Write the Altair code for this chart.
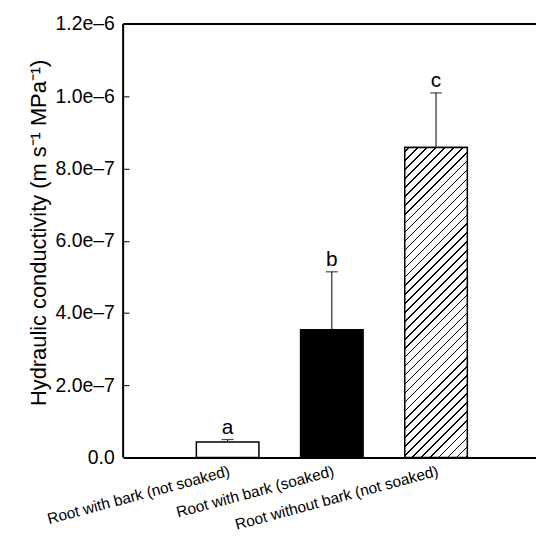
import math
import altair as alt
import pandas as pd

# ---- data ----
categories = ["Root with bark (not soaked)", "Root with bark (soaked)", "Root without bark (not soaked)"]
means = [4.3e-8, 3.54e-7, 8.58e-7]
errors = [0.7e-8, 1.60e-7, 1.51e-7]
letters = ["a", "b", "c"]
bar_fills = ["white", "black", "white"]
y_ticks = [0, 2e-7, 4e-7, 6e-7, 8e-7, 1.0e-6, 1.2e-6]
y_max = 1.2e-6
y_title = "Hydraulic conductivity (m s\u207b\u00b9 MPa\u207b\u00b9)"

df = pd.DataFrame({
    "cat": categories,
    "mean": means,
    "top": [m + e for m, e in zip(means, errors)],
    "letter": letters,
    "fill": bar_fills,
})

# ---- layout ----
W, H = 416, 437
P_IN, P_OUT, ALIGN = 0.4, 0.681, 0.516
FONT = "Liberation Sans"

# ---- hatch pattern as a hard-stop linear gradient for the third bar ----
step = W / (len(categories) - P_IN + 2 * P_OUT)
bw = step * (1 - P_IN)
hb = means[2] / y_max * H
c = (bw + hb) / (bw ** 2 + hb ** 2)
gx2, gy2 = c * bw, c * hb
spacing = 9.0  # horizontal distance between hatch lines (px)
period = spacing / (bw + hb)
half = (1.1 / ((bw + hb) / math.sqrt(2))) / 2
stops = [alt.GradientStop(offset=0, color="white")]
k = 0
while True:
    ctr = period * (k + 0.5)
    a, b = ctr - half, ctr + half
    if b >= 1:
        break
    stops += [
        alt.GradientStop(offset=a, color="white"),
        alt.GradientStop(offset=a, color="black"),
        alt.GradientStop(offset=b, color="black"),
        alt.GradientStop(offset=b, color="white"),
    ]
    k += 1
stops.append(alt.GradientStop(offset=1, color="white"))
hatch = alt.LinearGradient(gradient="linear", stops=stops, x1=0, y1=0, x2=gx2, y2=gy2)

x_enc = alt.X(
    "cat:N",
    sort=categories,
    scale=alt.Scale(paddingInner=P_IN, paddingOuter=P_OUT, align=ALIGN),
    axis=alt.Axis(
        title=None, ticks=False, domainWidth=2, domainColor="black",
        labelAngle=345, labelAlign="right", labelBaseline="top",
        labelPadding=6, labelFontSize=15.5, labelLimit=0, labelColor="black",
        labelFont=FONT,
    ),
)
y_scale = alt.Scale(domain=[0, y_max], nice=False, zero=True)
y_axis = alt.Axis(
    values=y_ticks,
    labelExpr="datum.value == 0 ? '0.0' : replace(format(datum.value, '.1e'), '-', '\u2013')",
    domain=False, grid=False, tickSize=6, tickColor="black", tickWidth=1,
    offset=-6, labelPadding=9, labelFontSize=19.5, labelColor="black", labelFont=FONT,
    title=y_title, titleFontSize=22, titleFontWeight="normal", titleColor="black",
    titleFont=FONT, titleAngle=270, titleAlign="center", titleBaseline="alphabetic",
    titleX=-84, titleY=210,
)

base = alt.Chart(df)

bars = base.mark_bar(stroke="black", strokeWidth=1.5).encode(
    x=x_enc,
    y=alt.Y("mean:Q", scale=y_scale, axis=y_axis),
    fill=alt.Fill("fill:N", scale=None),
)
hatched = base.mark_bar(stroke="black", strokeWidth=1.5, fill=hatch).encode(
    x=alt.X("cat:N", sort=categories),
    y=alt.Y("mean:Q"),
).transform_filter(alt.datum.cat == categories[2])

err_line = base.mark_rule(color="black", strokeWidth=1).encode(
    x=alt.X("cat:N", sort=categories),
    y=alt.Y("mean:Q"),
    y2="top:Q",
)
err_cap = base.mark_tick(color="black", thickness=1.2, size=12, orient="horizontal").encode(
    x=alt.X("cat:N", sort=categories),
    y=alt.Y("top:Q"),
)
txt = base.mark_text(fontSize=21, font=FONT, color="black", baseline="alphabetic", dy=-6).encode(
    x=alt.X("cat:N", sort=categories),
    y=alt.Y("top:Q"),
    text="letter:N",
)

frame_df = pd.DataFrame({"z": [0]})
left_line = alt.Chart(frame_df).mark_rule(color="black", strokeWidth=2).encode(
    x=alt.value(0), y=alt.datum(0), y2=alt.datum(y_max)
)
top_line = alt.Chart(frame_df).mark_rule(color="black", strokeWidth=2).encode(
    x=alt.value(0), x2=alt.value(W), y=alt.datum(y_max)
)

chart = alt.layer(bars, hatched, err_line, err_cap, txt, left_line, top_line).properties(
    width=W, height=H,
    autosize=alt.AutoSizeParams(type="none"),
    padding={"left": 116, "top": 14, "right": 0, "bottom": 79},
).configure_view(strokeWidth=0).configure(font=FONT)

chart.save("out.html", embed_options={"renderer": "svg", "actions": False})
